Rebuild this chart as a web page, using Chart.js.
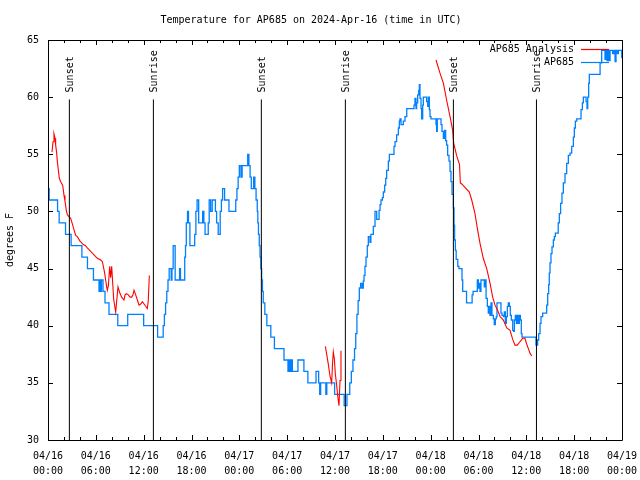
<!DOCTYPE html>
<html><head><meta charset="utf-8">
<script src="https://cdn.jsdelivr.net/npm/chart.js@4.4.1/dist/chart.umd.min.js"></script>
<style>html,body{margin:0;padding:0;background:#fff}canvas{display:block}</style>
</head><body>
<canvas id="c" width="640" height="480" style="width:640px;height:480px"></canvas>
<script>
// Hours after 2024-04-16 00:00 UTC
const chartTitle = 'Temperature for AP685 on 2024-Apr-16 (time in UTC)';
const tickDates = ['04/16','04/16','04/16','04/16','04/17','04/17','04/17','04/17','04/18','04/18','04/18','04/18','04/19'];
const tickTimes = ['00:00','06:00','12:00','18:00','00:00','06:00','12:00','18:00','00:00','06:00','12:00','18:00','00:00'];
const yTicks = [30, 35, 40, 45, 50, 55, 60, 65];

const sunHours  = [2.68, 13.22, 26.76, 37.30, 50.85, 61.27];
const sunLabels = ['Sunset','Sunrise','Sunset','Sunrise','Sunset','Sunrise'];
const sunLineTop = 59.8;

// AP685 observations
const obsHours = [
  0.00,0.15,1.20,1.40,2.20,2.90,4.25,4.95,5.70,6.40,6.50,6.60,6.70,6.90,7.15,7.65,8.75,10.00,12.00,13.75,
  14.45,14.60,14.75,14.90,15.05,15.20,15.45,15.55,15.70,15.95,16.50,16.62,17.15,17.25,17.35,17.50,17.62,17.80,
  18.40,18.55,18.70,18.90,19.40,19.55,19.70,20.10,20.22,20.40,20.60,21.00,21.15,21.35,21.60,21.75,21.90,22.15,22.70,
  23.55,23.70,23.85,24.00,24.20,24.35,25.05,25.20,25.35,25.50,25.80,25.95,26.10,
  26.25,26.32,26.40,26.50,26.60,26.70,26.80,26.90,27.00,27.20,27.45,27.95,28.40,29.60,30.10,30.25,30.40,30.55,30.65,31.35,
  32.10,32.60,33.62,33.95,34.08,34.20,34.85,34.97,35.95,37.15,
  37.50,37.85,38.05,38.25,38.45,38.60,38.75,38.90,39.05,39.22,39.39,39.55,39.64,39.76,39.89,40.05,40.18,40.39,40.50,40.81,
  41.02,41.23,41.53,41.65,41.77,41.94,42.06,42.23,42.36,42.48,42.69,42.82,43.40,43.53,43.73,43.95,44.07,44.15,44.28,44.57,
  44.78,45.00,45.91,46.03,46.16,46.24,46.37,46.50,46.58,46.66,46.79,46.87,47.00,47.08,47.50,47.63,47.71,47.83,47.92,48.04,
  48.67,48.75,48.83,49.30,49.42,49.59,49.76,49.88,50.00,50.13,50.30,50.43,50.55,50.68,
  50.85,50.93,51.00,51.10,51.20,51.40,51.55,51.93,52.02,52.50,53.20,53.32,53.85,53.98,54.10,54.19,54.31,54.73,54.81,54.95,
  55.11,55.23,55.36,55.44,55.57,55.69,55.86,55.98,56.11,56.23,56.32,56.82,56.95,57.12,57.24,57.37,57.49,57.62,57.74,57.87,
  57.99,58.12,58.29,58.41,58.50,58.62,58.75,58.87,59.00,59.12,59.25,59.37,59.46,61.21,61.42,61.55,61.72,61.84,62.05,
  62.55,62.68,62.80,62.88,62.97,63.09,63.22,63.39,63.51,63.64,64.00,64.14,64.30,64.47,64.64,64.85,65.06,65.27,65.48,65.69,
  65.90,66.02,66.15,66.32,66.86,67.03,67.15,67.49,67.61,67.70,67.82,67.90,69.25,69.45,69.87,70.00,70.12,70.21,70.37,70.50,
  70.83,71.00,71.13,71.25,71.42,71.55,71.97
];
const obsTemps = [
  52,51,50,49,48,47,46,45,44,43,44,43,44,43,42,41,40,41,40,39,
  40,41,42,43,44,45,44,45,47,44,45,44,46,47,49,50,49,47,
  48,50,51,49,50,49,48,49,51,50,51,50,49,48,50,51,52,51,50,
  51,52,53,54,53,54,55,54,53,52,53,52,51,
  50,49,48,47,46,45,44,43,42,41,40,39,38,37,36,37,36,37,36,37,
  36,35,36,35,34,35,34,35,34,33,
  34,35,36,37,38,39.3,41,42.2,43.3,43.7,43.3,43.9,44.4,45.2,46,47,47.8,47.3,48,48.7,
  50,49.3,50.1,50.6,51,51.2,51.7,52.3,52.9,53.6,54.4,55,55.7,56.1,56.7,57.3,57.9,58.1,57.6,57.9,
  58.3,59,59.3,59.9,59,59.5,60.2,60.6,61.1,59.9,59,58.1,59.3,60,59.6,59.2,60,58.9,58.3,58.1,
  57.6,57,58.1,57.6,57,56.4,57.1,56.2,55.8,54.9,54.4,53.5,52.6,51.5,
  50.3,48.8,47.5,46.6,45.8,45.2,45,44,43,42,42.7,43,44,43.3,43.7,43,44,43.4,44,42.4,
  41.7,41.1,41.7,40.9,42,40.9,40.6,40.1,40.6,40.8,42,41.1,40.9,40.8,41.2,40.2,40.8,41.7,42,41.7,
  40.9,40.5,39.6,39.5,40.5,40.9,40.2,40.9,40.2,40.9,40.5,39.3,39,38.3,38.75,39.3,40.2,40.8,41.1,
  41.8,42.8,43.6,44.6,45.5,46.3,46.9,47.5,47.8,48.1,49,49.8,50.7,51.6,52.5,53.3,54.2,54.9,55.1,55.7,
  56.5,57.3,57.9,58.1,58.9,59.5,60,59.6,59,60,61.2,62,63,64.1,63.3,64.1,63.2,64.1,63.2,64.1,
  63.8,64.1,63.1,64.1,63.8,64.1,63.4
];

// AP685 Analysis (null = gap)
const anaHours = [
  0.50,0.63,0.75,0.88,0.96,1.09,1.17,1.30,1.42,1.59,1.84,2.01,2.13,2.30,2.43,2.68,2.84,2.97,3.10,3.26,
  3.47,3.68,4.01,4.43,4.72,4.93,5.35,5.77,6.19,6.61,6.82,6.94,7.11,7.23,7.36,7.44,7.57,7.74,7.86,7.99,
  8.24,8.49,8.78,8.99,9.24,9.53,9.66,9.83,10.08,10.29,10.50,10.66,10.79,11.00,11.21,11.42,11.63,11.84,12.05,12.25,12.46,12.58,12.71,
  13.00,
  34.79,34.96,35.17,35.37,35.58,35.70,35.79,35.92,36.04,36.21,36.33,36.50,36.63,36.75,
  37.00,
  48.67,49.17,49.60,50.00,50.43,50.76,50.88,51.25,51.62,51.72,51.90,52.30,52.85,53.15,53.56,53.86,54.19,54.60,55.03,55.45,
  55.78,56.07,56.37,56.70,57.12,57.54,57.96,58.29,58.58,58.87,59.20,59.54,59.83,60.04,60.25,60.46,60.67
];
const anaTemps = [
  55.2,56.1,56.8,56.4,55.8,55.1,54.4,53.6,52.9,52.6,52.3,51.4,50.9,50.1,49.7,49.5,49.4,49.1,48.8,48.4,
  47.9,47.8,47.4,47.1,47.0,46.8,46.5,46.2,45.9,45.75,45.6,45.2,44.6,44.0,43.4,43.1,43.5,45.2,44.2,45.2,
  42.3,41.2,43.4,42.9,42.5,42.25,42.7,42.8,42.7,42.5,42.5,42.7,43.1,42.7,42.25,41.8,41.9,42.1,41.9,41.7,41.5,42.2,44.4,
  null,
  38.2,37.5,36.6,35.6,35.0,36.8,37.7,37.1,35.8,34.8,33.9,33.0,35.2,37.8,
  null,
  63.25,62.1,61.2,59.75,58.3,57.1,56.0,54.9,54.1,52.5,52.4,52.1,51.7,51.0,49.8,48.5,47.2,45.9,45.0,43.7,
  42.5,41.8,41.4,40.8,40.5,39.8,39.6,38.8,38.3,38.3,38.6,38.9,38.9,38.4,38.0,37.6,37.35
];

const FONT = '"DejaVu Sans Mono", "Liberation Mono", monospace';
const FSIZE = 10;

const obsData = obsHours.map((h, i) => ({x: h, y: obsTemps[i]}));
const anaData = anaHours.map((h, i) => ({x: h, y: anaTemps[i]}));
const sunSets = sunHours.map(h => ({
  label: '', data: [{x: h, y: 30}, {x: h, y: sunLineTop}],
  borderColor: '#000', borderWidth: 1, pointRadius: 0, order: 0, isSun: true
}));

const framePlugin = {
  id: 'frame',
  afterDatasetsDraw(chart) {
    const {ctx, chartArea: a, scales: {x, y}} = chart;
    ctx.save();
    ctx.strokeStyle = '#000';
    ctx.lineWidth = 1;
    ctx.beginPath();
    ctx.rect(a.left + 0.5, a.top + 0.5, a.right - a.left, a.bottom - a.top);
    x.ticks.forEach(t => {
      const px = Math.round(x.getPixelForValue(t.value)) + 0.5;
      const len = (t.value % 6 === 0) ? 5 : 3;
      ctx.moveTo(px, a.bottom); ctx.lineTo(px, a.bottom - len);
      ctx.moveTo(px, a.top); ctx.lineTo(px, a.top + len);
    });
    y.ticks.forEach(t => {
      const py = Math.round(y.getPixelForValue(t.value)) + 0.5;
      ctx.moveTo(a.left, py); ctx.lineTo(a.left + 5, py);
      ctx.moveTo(a.right, py); ctx.lineTo(a.right - 5, py);
    });
    ctx.stroke();
    // sun labels
    ctx.fillStyle = '#000';
    ctx.font = FSIZE + 'px ' + FONT;
    ctx.textAlign = 'left';
    ctx.textBaseline = 'middle';
    sunHours.forEach((h, i) => {
      const px = x.getPixelForValue(h);
      const py = y.getPixelForValue(sunLineTop) - 7;
      ctx.save();
      ctx.translate(px + 1, py);
      ctx.rotate(-Math.PI / 2);
      ctx.fillText(sunLabels[i], 0, 0);
      ctx.restore();
    });
    // legend
    const items = chart.data.datasets.filter(d => !d.isSun);
    items.forEach((d, i) => {
      const ly = a.top + 9 + 13 * i;
      ctx.textAlign = 'right';
      ctx.fillText(d.label, a.right - 48, ly);
      ctx.strokeStyle = d.borderColor;
      ctx.lineWidth = 1.2;
      ctx.beginPath();
      ctx.moveTo(a.right - 41, ly + 0.5);
      ctx.lineTo(a.right - 13, ly + 0.5);
      ctx.stroke();
    });
    ctx.restore();
  }
};

new Chart(document.getElementById('c'), {
  type: 'line',
  data: {
    datasets: [
      ...sunSets,
      {label: 'AP685 Analysis', data: anaData, borderColor: '#ff0000', borderWidth: 1.1,
       pointRadius: 0, spanGaps: false, order: 1},
      {label: 'AP685', data: obsData, borderColor: '#0080ff', borderWidth: 1.3,
       pointRadius: 0, stepped: true, order: 2}
    ]
  },
  options: {
    responsive: false,
    animation: false,
    devicePixelRatio: 1,
    layout: {padding: {left: 0, right: 18, top: 0, bottom: 0}},
    plugins: {
      legend: {display: false},
      tooltip: {enabled: false},
      title: {
        display: true, text: chartTitle, color: '#000',
        font: {family: FONT, size: FSIZE, weight: 'normal', lineHeight: 1.2},
        padding: {top: 14, bottom: 14}
      }
    },
    scales: {
      x: {
        type: 'linear', min: 0, max: 72,
        grid: {display: false, drawTicks: false},
        border: {display: false},
        ticks: {
          stepSize: 2, maxTicksLimit: 100, autoSkip: false, maxRotation: 0, minRotation: 0,
          color: '#000', padding: 9,
          font: {family: FONT, size: FSIZE, lineHeight: 1.5},
          callback: v => (v % 6 === 0) ? [tickDates[v / 6], tickTimes[v / 6]] : ''
        },
        afterFit: s => { s.height = 40; s.paddingLeft = 0; s.paddingRight = 0; }
      },
      y: {
        min: 30, max: 65,
        afterBuildTicks: s => { s.ticks = yTicks.map(v => ({value: v})); },
        grid: {display: false, drawTicks: false},
        border: {display: false},
        ticks: {color: '#000', padding: 9, font: {family: FONT, size: FSIZE}},
        title: {display: true, text: 'degrees F', color: '#000',
                font: {family: FONT, size: FSIZE}, padding: {top: 4, bottom: 0}},
        afterFit: s => { s.width = 48; s.paddingTop = 0; s.paddingBottom = 0; }
      }
    }
  },
  plugins: [framePlugin]
});
</script>
</body></html>
